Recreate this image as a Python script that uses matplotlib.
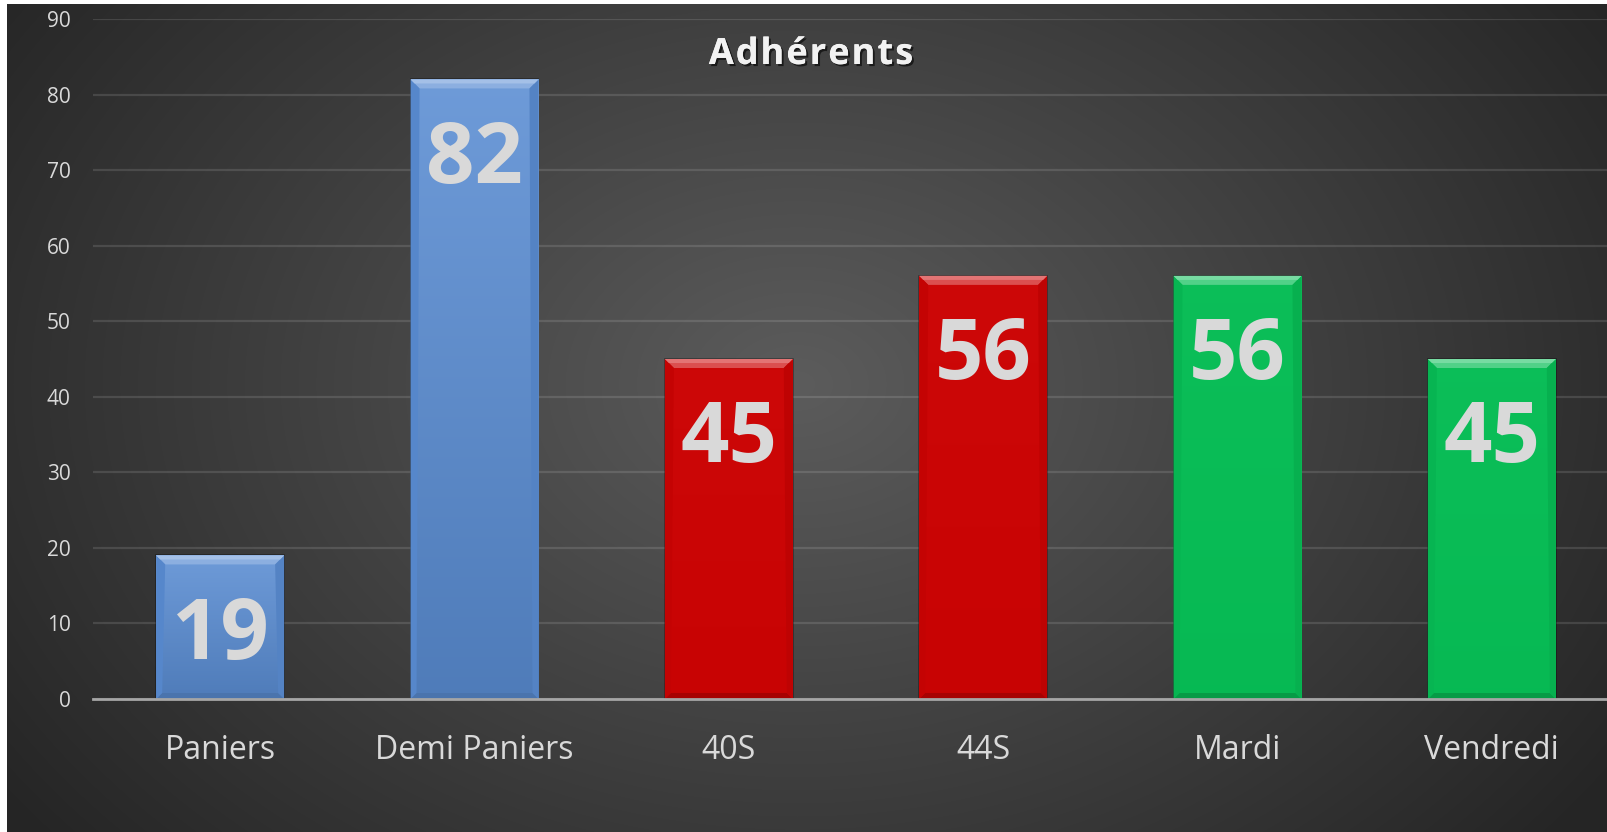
import numpy as np
import matplotlib
matplotlib.use("Agg")
import matplotlib.pyplot as plt
from matplotlib.patches import Polygon
from matplotlib.colors import to_rgb
import matplotlib.patheffects as pe

plt.rcParams['font.family'] = ['Open Sans', 'DejaVu Sans']

# données
categories = ["Paniers", "Demi Paniers", "40S", "44S", "Mardi", "Vendredi"]
values = [19, 82, 45, 56, 56, 45]
bar_colors = ["#5a8dd3", "#5a8dd3", "#cc0303", "#cc0303", "#07bd55", "#07bd55"]
title = "Adhérents"

W, H = 1608, 832
fig = plt.figure(figsize=(W / 100, H / 100), dpi=100, facecolor="white")

# fond dégradé (radial, plus clair au centre)
bg = fig.add_axes([7 / W, 0, 1 - 7 / W, 1 - 4 / H])
yy, xx = np.mgrid[0:H - 4, 0:W - 7]
d = np.sqrt(((xx - 790) / 980.0) ** 2 + ((yy - 380) / 720.0) ** 2)
d = np.clip(d, 0, 1)
c_in = np.array(to_rgb("#5c5c5c"))
c_out = np.array(to_rgb("#252525"))
img = c_in[None, None, :] * (1 - d[..., None]) + c_out[None, None, :] * d[..., None]
bg.imshow(img, aspect="auto", interpolation="bilinear")
bg.set_axis_off()

# zone de tracé
left, right = 93, 1619
top, bottom = 19, 699
ax = fig.add_axes([left / W, (H - bottom) / H, (right - left) / W, (bottom - top) / H])
ax.patch.set_alpha(0)
ax.set_xlim(-0.5, len(categories) - 0.5)
ax.set_ylim(0, 90)
ax.set_yticks(np.arange(0, 91, 10))
ax.yaxis.grid(True, color="white", alpha=0.12, lw=1.6)
ax.set_axisbelow(True)
for s in ["left", "right", "top"]:
    ax.spines[s].set_visible(False)
ax.spines["bottom"].set_color("#a6a6a6")
ax.spines["bottom"].set_linewidth(2)
ax.spines["bottom"].set_zorder(5)
ax.tick_params(axis="y", length=0, pad=16, labelsize=15, labelcolor="#d9d9d9")
ax.tick_params(axis="x", length=0, pad=25, labelsize=23, labelcolor="#d9d9d9")
ax.set_xticks(range(len(categories)))
ax.set_xticklabels(categories)

bar_w = 0.503
bars = ax.bar(range(len(categories)), values, width=bar_w, color=bar_colors,
              edgecolor=(0, 0, 0, 0.35), linewidth=1.2, zorder=2)

# effet biseau (3D) à partir de la géométrie des barres
px_x = (right - left) / len(categories)   # pixels par unité x
px_y = (bottom - top) / 90.0              # pixels par unité y
grad_amt = {"#5a8dd3": 0.12, "#cc0303": 0.02, "#07bd55": 0.02}


def mix(c, other, t):
    c = np.array(to_rgb(c))
    o = np.array(to_rgb(other))
    return tuple(c * (1 - t) + o * t)


for b, col in zip(bars, bar_colors):
    x0, y0 = b.get_x(), b.get_y()
    x1, y1 = x0 + b.get_width(), y0 + b.get_height()
    # dégradé vertical
    g = grad_amt[col]
    grad = np.linspace(0, 1, 100)[:, None]
    top_c = np.array(mix(col, "white", g))
    bot_c = np.array(mix(col, "black", g))
    gimg = top_c[None, None, :] * (1 - grad[..., None]) + bot_c[None, None, :] * grad[..., None]
    im = ax.imshow(gimg, extent=(x0, x1, y0, y1), aspect="auto", zorder=2.1,
                   interpolation="bilinear")
    im.set_clip_path(b)
    bx = 9 / px_x
    by = 9 / px_y
    bbx = 6 / px_x
    bby = 6 / px_y
    # biseau haut (clair)
    ax.add_patch(Polygon([(x0, y1), (x1, y1), (x1 - bx, y1 - by), (x0 + bx, y1 - by)],
                         closed=True, fc=mix(col, "white", 0.3), ec="none", zorder=2.2))
    ax.add_patch(Polygon([(x0, y1), (x1, y1), (x1 - bx * 0.45, y1 - by * 0.45), (x0 + bx * 0.45, y1 - by * 0.45)],
                         closed=True, fc=mix(col, "white", 0.45), ec="none", zorder=2.25))
    # biseau bas (sombre)
    ax.add_patch(Polygon([(x0, y0), (x1, y0), (x1 - bbx, y0 + bby), (x0 + bbx, y0 + bby)],
                         closed=True, fc=mix(col, "black", 0.18), ec="none", zorder=2.2))
    # côtés
    ax.add_patch(Polygon([(x0, y0), (x0 + bbx, y0 + bby), (x0 + bx, y1 - by), (x0, y1)],
                         closed=True, fc=mix(col, "black", 0.04), ec="none", zorder=2.2))
    ax.add_patch(Polygon([(x1, y0), (x1 - bbx, y0 + bby), (x1 - bx, y1 - by), (x1, y1)],
                         closed=True, fc=mix(col, "black", 0.07), ec="none", zorder=2.2))

# étiquettes de données
for i, v in enumerate(values):
    ax.annotate(str(v), (i, v), xytext=(0, -74.5), textcoords="offset points",
                ha="center", va="baseline", fontsize=61, fontweight="bold",
                color="#d9d9d9", zorder=4)

# titre avec espacement des lettres
fig.canvas.draw()
renderer = fig.canvas.get_renderer()
t_kw = dict(fontsize=26, fontweight="bold", color="#f2f2f2",
            path_effects=[pe.withSimplePatchShadow(offset=(1.5, -1.5), shadow_rgbFace="black", alpha=0.6),
                          pe.Normal()])
spacing = 2.0
widths = []
for ch in title:
    t = fig.text(0, 0, ch, **t_kw)
    widths.append(t.get_window_extent(renderer).width)
    t.remove()
total = sum(widths) + spacing * (len(title) - 1)
x = 811 - total / 2
for ch, w in zip(title, widths):
    fig.text(x / W, 1 - 64 / H, ch, ha="left", va="baseline", **t_kw)
    x += w + spacing

fig.savefig("out.png", dpi=100, facecolor=fig.get_facecolor())
